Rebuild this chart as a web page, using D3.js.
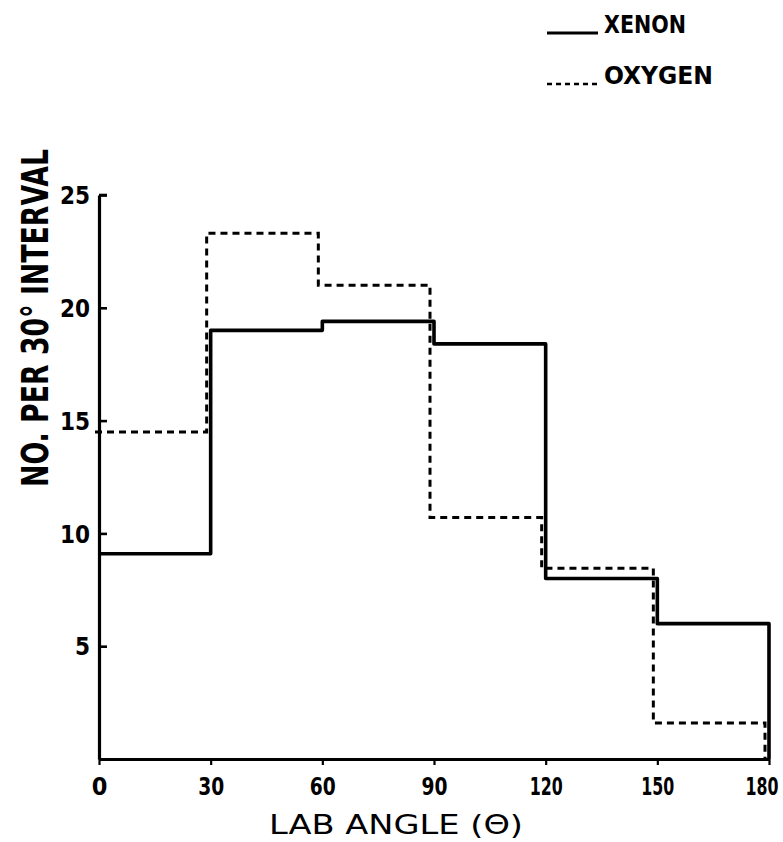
<!DOCTYPE html>
<html>
<head>
<meta charset="utf-8">
<script src="https://cdn.jsdelivr.net/npm/d3@7"></script>
<style>
  html, body { margin: 0; padding: 0; background: #fff; }
  svg { display: block; }
  text { fill: #000; }
</style>
</head>
<body>
<svg id="chart" width="783" height="842"></svg>
<script>
// Bin edges of the lab angle (degrees), one count per 30° interval
const angleEdges = [0, 30, 60, 90, 120, 150, 180];
const xenonCounts = [9.1, 19.0, 19.4, 18.4, 8.0, 6.0];
const oxygenCounts = [14.5, 23.3, 21.0, 10.7, 8.45, 1.6];
const yTickValues = [5, 10, 15, 20, 25];
const xTickValues = [0, 30, 60, 90, 120, 150, 180];

const svg = d3.select("#chart");
const x = d3.scaleLinear().domain([0, 180]).range([99, 769]);
const y = d3.scaleLinear().domain([0, 25]).range([759, 195]);

const boldFont = "'DejaVu Sans Condensed', 'DejaVu Sans', sans-serif";

// Narrow hand-lettered numerals: the "1" takes little room
function numeralWidth(s) {
  return Array.from(s).reduce((w, ch) => w + (ch === "1" ? 7 : 13), 0);
}

// Step outline of a histogram: closes down onto the baseline at 180°
function stepPoints(counts) {
  const pts = counts.map((c, i) => [angleEdges[i], c]);
  pts.push([angleEdges[angleEdges.length - 1], counts[counts.length - 1]]);
  pts.push([angleEdges[angleEdges.length - 1], 0]);
  return pts;
}
const stepLine = d3.line()
  .x(d => x(d[0]))
  .y(d => y(d[1]))
  .curve(d3.curveStepAfter);

// Axes
const yAxis = d3.axisLeft(y)
  .tickValues(yTickValues)
  .tickSizeInner(-8)
  .tickSizeOuter(0)
  .tickPadding(9)
  .tickFormat(d3.format("d"));
const gy = svg.append("g").attr("transform", "translate(99,0)").call(yAxis);
gy.select(".domain").attr("stroke", "#000").attr("stroke-width", 3.2);
gy.selectAll(".tick line").attr("stroke", "#000").attr("stroke-width", 2.6);
gy.selectAll(".tick text")
  .attr("font-family", boldFont)
  .attr("font-weight", "bold")
  .attr("font-size", 24)
  .attr("dy", "0.36em");
// short cap on the top of the axis
svg.append("line")
  .attr("x1", x(0)).attr("x2", x(0) + 8)
  .attr("y1", y(25)).attr("y2", y(25))
  .attr("stroke", "#000").attr("stroke-width", 2.6);

const xAxis = d3.axisBottom(x)
  .tickValues(xTickValues)
  .tickSizeInner(6)
  .tickSizeOuter(0)
  .tickPadding(12)
  .tickFormat(d3.format("d"));
const gx = svg.append("g").attr("transform", "translate(0,759)").call(xAxis);
gx.select(".domain").attr("stroke", "#000").attr("stroke-width", 3.2);
gx.selectAll(".tick line").attr("stroke", "#000").attr("stroke-width", 2.2);
const lastTick = xTickValues[xTickValues.length - 1];
gx.selectAll(".tick text")
  .attr("font-family", boldFont)
  .attr("font-weight", "bold")
  .attr("font-size", 25)
  .attr("dy", "0.71em")
  .each(function (d) {
    const s = String(d);
    if (s.length < 2) return;
    // squeeze the numerals horizontally to the narrow lettering width
    const sx = numeralWidth(s) / this.getComputedTextLength();
    const t = d3.select(this).attr("transform", `scale(${sx},1)`);
    // the last label sits flush with the right end of the axis
    if (d === lastTick) {
      t.attr("text-anchor", "end").attr("x", 9 / sx);
    }
  });

// Histograms
svg.append("path")
  .datum(stepPoints(oxygenCounts))
  .attr("transform", "translate(-4,0)")
  .attr("d", stepLine)
  .attr("fill", "none")
  .attr("stroke", "#000")
  .attr("stroke-width", 3)
  .attr("stroke-dasharray", "7,5");

svg.append("path")
  .datum(stepPoints(xenonCounts))
  .attr("d", stepLine)
  .attr("fill", "none")
  .attr("stroke", "#000")
  .attr("stroke-width", 3.6)
  .attr("stroke-linejoin", "round");

// Axis titles
svg.append("text")
  .attr("transform", "translate(48,318) rotate(-90)")
  .attr("text-anchor", "middle")
  .attr("font-family", boldFont)
  .attr("font-weight", "bold")
  .attr("font-size", 37)
  .attr("textLength", 338)
  .attr("lengthAdjust", "spacingAndGlyphs")
  .text("NO.  PER  30°  INTERVAL");

svg.append("text")
  .attr("x", 396)
  .attr("y", 834)
  .attr("text-anchor", "middle")
  .attr("font-family", "'DejaVu Sans', sans-serif")
  .attr("font-size", 27)
  .attr("textLength", 254)
  .attr("lengthAdjust", "spacingAndGlyphs")
  .text("LAB  ANGLE  (Θ)");

// Legend
const legendItems = [
  { name: "XENON", dash: null, y: 33, len: 82 },
  { name: "OXYGEN", dash: "5,4", y: 84, len: 109 }
];
const lg = svg.append("g");
legendItems.forEach(item => {
  lg.append("line")
    .attr("x1", 547).attr("x2", 598)
    .attr("y1", item.y).attr("y2", item.y)
    .attr("stroke", "#000")
    .attr("stroke-width", item.dash ? 2.6 : 3)
    .attr("stroke-dasharray", item.dash);
  lg.append("text")
    .attr("x", 604)
    .attr("y", item.y)
    .attr("font-family", boldFont)
    .attr("font-weight", "bold")
    .attr("font-size", 25)
    .attr("textLength", item.len)
    .attr("lengthAdjust", "spacingAndGlyphs")
    .text(item.name);
});
</script>
</body>
</html>
